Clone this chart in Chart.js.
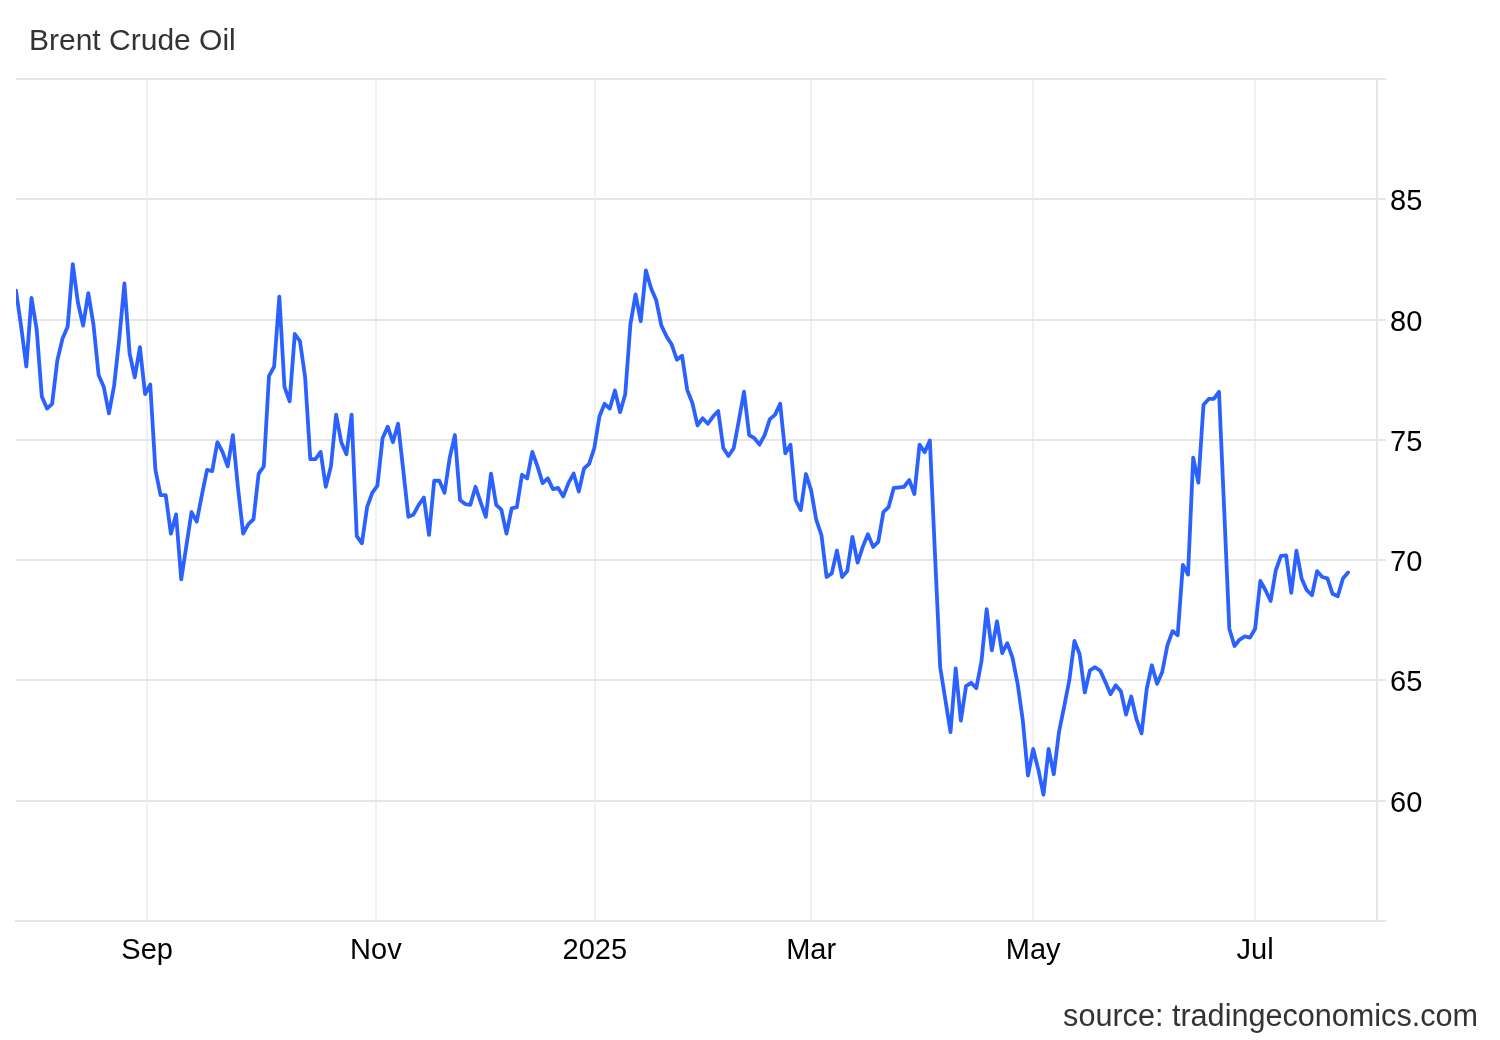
<!DOCTYPE html>
<html>
<head>
<meta charset="utf-8">
<title>Brent Crude Oil</title>
<script src="https://cdn.jsdelivr.net/npm/chart.js@4.4.1/dist/chart.umd.min.js"></script>
<style>
  html, body { margin: 0; padding: 0; background: #fff; }
  #wrap { position: relative; width: 1500px; height: 1040px; }
  #chart { position: absolute; left: 0; top: 0; }
  .txt { position: absolute; font-family: "Liberation Sans", Arial, Helvetica, sans-serif; font-size: 30px; line-height: 30px; color: #333; white-space: nowrap; }
  #title { left: 29px; top: 25px; }
  #source { right: 22px; top: 1000px; font-size: 30.6px; }
</style>
</head>
<body>
<div id="wrap">
  <canvas id="chart" width="1500" height="1040"></canvas>
  <div id="title" class="txt">Brent Crude Oil</div>
  <div id="source" class="txt">source: tradingeconomics.com</div>
</div>
<script>
// daily Brent close, one value per trading day (late Jul 2024 .. late Jul 2025)
var brentClose = [
  81.2, 79.7, 78.05, 80.9, 79.6, 76.8, 76.3, 76.5, 78.3, 79.2,
  79.7, 82.3, 80.7, 79.75, 81.1, 79.8, 77.7, 77.2, 76.1, 77.25,
  79.2, 81.5, 78.6, 77.6, 78.85, 76.9, 77.3, 73.75, 72.7, 72.7,
  71.1, 71.9, 69.2, 70.6, 72.0, 71.6, 72.7, 73.75, 73.7, 74.9,
  74.5, 73.9, 75.2, 73.0, 71.1, 71.5, 71.7, 73.6, 73.9, 77.65,
  78.05, 80.95, 77.2, 76.6, 79.4, 79.1, 77.6, 74.2, 74.2, 74.5,
  73.05, 73.9, 76.05, 74.9, 74.4, 76.05, 71.0, 70.7, 72.2, 72.8,
  73.1, 75.07, 75.55, 74.9, 75.67, 73.75, 71.8, 71.9, 72.3, 72.6,
  71.05, 73.3, 73.3, 72.8, 74.25, 75.2, 72.5, 72.33, 72.3, 73.05,
  72.4, 71.8, 73.6, 72.3, 72.1, 71.1, 72.15, 72.2, 73.55, 73.4,
  74.5, 73.9, 73.2, 73.4, 72.95, 73.0, 72.65, 73.2, 73.6, 72.85,
  73.8, 74.0, 74.65, 75.97, 76.5, 76.3, 77.05, 76.15, 76.9, 79.8,
  81.05, 79.93, 82.04, 81.3, 80.8, 79.75, 79.3, 78.96, 78.33, 78.5,
  77.08, 76.53, 75.6, 75.9, 75.67, 75.97, 76.2, 74.65, 74.33, 74.65,
  75.8, 77.0, 75.2, 75.07, 74.8, 75.2, 75.86, 76.04, 76.5, 74.44,
  74.8, 72.5, 72.08, 73.58, 72.9, 71.67, 71.04, 69.3, 69.45, 70.4,
  69.3, 69.55, 70.97, 69.9, 70.55, 71.08, 70.55, 70.76, 72.0, 72.2,
  73.0, 73.02, 73.05, 73.33, 72.75, 74.8, 74.49, 74.97, 70.2, 65.55,
  64.2, 62.85, 65.5, 63.33, 64.76, 64.9, 64.68, 65.8, 67.96, 66.25,
  67.46, 66.14, 66.55, 65.95, 64.86, 63.33, 61.04, 62.15, 61.3, 60.25,
  62.15, 61.1, 62.85, 63.9, 65.0, 66.64, 66.1, 64.5, 65.42, 65.55,
  65.4, 64.93, 64.43, 64.8, 64.55, 63.58, 64.33, 63.4, 62.8, 64.65,
  65.63, 64.86, 65.35, 66.46, 67.05, 66.88, 69.8, 69.4, 74.26, 73.22,
  76.46, 76.7, 76.7, 77.0, 72.1, 67.15, 66.43, 66.7, 66.83, 66.78,
  67.15, 69.14, 68.75, 68.3, 69.58, 70.18, 70.2, 68.64, 70.39, 69.24,
  68.75, 68.54, 69.54, 69.3, 69.24, 68.6, 68.5, 69.24, 69.49
];

// month boundaries on the trading-day axis
var tickLabels = ["Sep", "Nov", "2025", "Mar", "May", "Jul"];
var tickIndex  = [25.4, 69.7, 112.1, 154.0, 197.0, 240.0];

var yTicks = [55, 60, 65, 70, 75, 80, 85, 90];

var points = brentClose.map(function (v, i) { return { x: i, y: v }; });

var ctx = document.getElementById('chart').getContext('2d');
new Chart(ctx, {
  type: 'line',
  data: {
    datasets: [{
      data: points,
      borderColor: '#2b62ff',
      borderWidth: 3.8,
      borderJoinStyle: 'round',
      borderCapStyle: 'round',
      pointRadius: 0,
      tension: 0,
      fill: false
    }]
  },
  options: {
    responsive: false,
    animation: false,
    devicePixelRatio: 1,
    layout: { padding: { left: 16, top: 79, right: 0, bottom: 0 } },
    plugins: { legend: { display: false }, tooltip: { enabled: false } },
    scales: {
      x: {
        type: 'linear',
        min: 0,
        max: 263.6,
        afterBuildTicks: function (scale) {
          scale.ticks = tickIndex.map(function (v) { return { value: v }; });
        },
        afterFit: function (scale) { scale.height = 119; },
        ticks: {
          autoSkip: false,
          maxRotation: 0,
          padding: 13,
          color: '#000',
          font: { family: '"Liberation Sans", Arial, sans-serif', size: 29 },
          callback: function (value) {
            var k = tickIndex.indexOf(value);
            return k >= 0 ? tickLabels[k] : '';
          }
        },
        grid: { color: '#eef1f6', lineWidth: 2, drawTicks: false },
        border: { display: true, color: '#e6e6e6', width: 2 }
      },
      y: {
        position: 'right',
        min: 55,
        max: 90,
        afterBuildTicks: function (scale) {
          scale.ticks = yTicks.map(function (v) { return { value: v }; });
        },
        afterFit: function (scale) { scale.width = 123; },
        ticks: {
          padding: 4,
          labelOffset: 3,
          color: '#000',
          font: { family: '"Liberation Sans", Arial, sans-serif', size: 29 },
          callback: function (value) {
            return (value === 55 || value === 90) ? '' : String(value);
          }
        },
        grid: { color: '#e6e6e6', lineWidth: 2, tickLength: 9 },
        border: { display: true, color: '#e6e6e6', width: 2 }
      }
    }
  }
});
</script>
</body>
</html>
